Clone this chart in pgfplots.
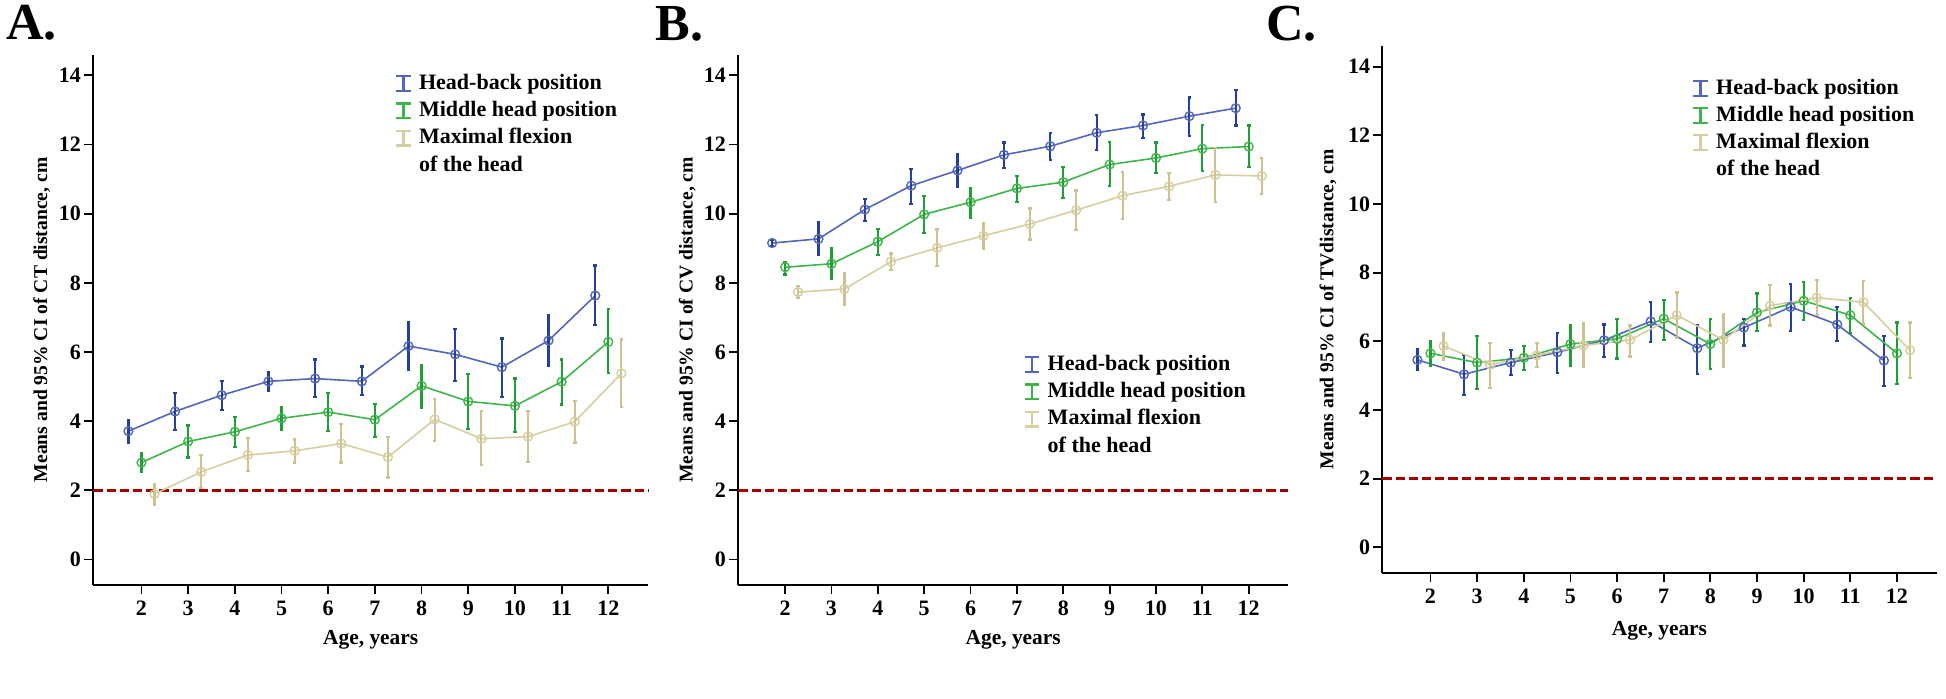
\documentclass[border=0pt]{standalone}
\usepackage{fontspec}
\setmainfont{Liberation Serif}
\usepackage{pgfplots}
\usepackage{pgfplotstable}
\pgfplotsset{compat=1.18}

\definecolor{bl}{HTML}{5266BA}
\definecolor{blE}{HTML}{23409C}
\definecolor{gr}{HTML}{3DB54A}
\definecolor{grE}{HTML}{1E9E35}
\definecolor{tn}{HTML}{D6CE9E}
\definecolor{tnE}{HTML}{CDC190}
\definecolor{dred}{HTML}{A50000}

% Panel A (CT)
\pgfplotstableread{
age m lo hi
2 3.71 3.38 4.02
3 4.28 3.75 4.81
4 4.75 4.32 5.17
5 5.15 4.87 5.42
6 5.23 4.69 5.78
7 5.15 4.75 5.58
8 6.17 5.48 6.85
9 5.93 5.17 6.67
10 5.56 4.69 6.39
11 6.33 5.60 7.06
12 7.63 6.78 8.50
}\Ab
\pgfplotstableread{
age m lo hi
2 2.80 2.52 3.07
3 3.41 2.95 3.87
4 3.69 3.26 4.11
5 4.08 3.75 4.41
6 4.26 3.71 4.81
7 4.04 3.55 4.50
8 5.02 4.38 5.62
9 4.57 3.77 5.36
10 4.44 3.68 5.23
11 5.14 4.48 5.78
12 6.29 5.38 7.24
}\Ag
\pgfplotstableread{
age m lo hi
2 1.89 1.58 2.19
3 2.53 2.07 3.02
4 3.02 2.56 3.51
5 3.14 2.80 3.47
6 3.35 2.80 3.92
7 2.96 2.37 3.53
8 4.05 3.43 4.65
9 3.49 2.74 4.29
10 3.55 2.82 4.29
11 3.98 3.38 4.57
12 5.38 4.41 6.36
}\At
% Panel B (CV)
\pgfplotstableread{
age m lo hi
2 9.15 9.07 9.24
3 9.27 8.81 9.76
4 10.12 9.79 10.42
5 10.81 10.27 11.30
6 11.25 10.76 11.72
7 11.70 11.33 12.06
8 11.95 11.55 12.33
9 12.34 11.84 12.85
10 12.55 12.18 12.87
11 12.82 12.24 13.36
12 13.05 12.55 13.58
}\Bb
\pgfplotstableread{
age m lo hi
2 8.45 8.24 8.61
3 8.55 8.10 8.99
4 9.19 8.81 9.55
5 9.98 9.45 10.52
6 10.33 9.88 10.75
7 10.73 10.34 11.09
8 10.91 10.46 11.36
9 11.42 10.79 12.08
10 11.61 11.18 12.06
11 11.88 11.24 12.57
12 11.94 11.36 12.55
}\Bg
\pgfplotstableread{
age m lo hi
2 7.73 7.55 7.90
3 7.82 7.37 8.27
4 8.61 8.36 8.85
5 9.01 8.48 9.54
6 9.36 8.99 9.73
7 9.70 9.25 10.15
8 10.10 9.52 10.67
9 10.52 9.84 11.21
10 10.79 10.39 11.18
11 11.12 10.33 11.90
12 11.09 10.57 11.60
}\Bt
% Panel C (TV)
\pgfplotstableread{
age m lo hi
2 5.46 5.16 5.76
3 5.04 4.44 5.59
4 5.38 5.02 5.74
5 5.68 5.08 6.24
6 6.03 5.55 6.49
7 6.58 5.98 7.14
8 5.80 5.05 6.48
9 6.40 5.88 6.64
10 7.00 6.31 7.68
11 6.49 6.00 7.00
12 5.44 4.69 6.16
}\Cb
\pgfplotstableread{
age m lo hi
2 5.65 5.29 6.00
3 5.38 4.60 6.16
4 5.52 5.16 5.86
5 5.92 5.28 6.48
6 6.07 5.50 6.64
7 6.66 6.04 7.20
8 5.92 5.20 6.64
9 6.84 6.30 7.39
10 7.18 6.61 7.72
11 6.76 6.24 7.27
12 5.65 4.75 6.55
}\Cg
\pgfplotstableread{
age m lo hi
2 5.86 5.47 6.24
3 5.32 4.63 5.95
4 5.59 5.26 5.95
5 5.88 5.26 6.52
6 6.04 5.56 6.46
7 6.76 6.10 7.42
8 6.04 5.26 6.79
9 7.04 6.46 7.63
10 7.27 6.76 7.78
11 7.14 6.52 7.76
12 5.74 4.92 6.55
}\Ct

\pgfplotsset{
  panel/.style={
    scale only axis,
    axis lines=left,
    axis line style={-, line width=1pt, black},
    xmin=0.97, xmax=12.85, ymin=-0.74, ymax=14.6,
    xtick={2,...,12}, ytick={0,2,...,14},
    tick align=outside, major tick length=4.5pt,
    tick style={black, line width=0.9pt},
    /pgf/number format/assume math mode=true,
    ticklabel style={font=\bfseries\fontsize{11}{12}\selectfont},
    yticklabel style={inner sep=1.5pt},
    xlabel={Age, years},
    xlabel style={font=\bfseries\fontsize{10.7}{12}\selectfont, anchor=center},
    ylabel style={font=\bfseries\fontsize{9.8}{11}\selectfont, anchor=center},
    clip=false,
    legend cell align=left,
    legend style={draw=none, fill=none, anchor=north west,
      font=\bfseries\fontsize{11}{12}\selectfont,
      nodes={inner sep=0.6pt, text height=8pt, text depth=2.2pt},
      row sep=2.2pt, column sep=3pt},
  },
  ser/.style 2 args={color=#1, line width=0.8pt, mark=o, mark size=2.2pt,
    mark options={line width=0.7pt, solid}, forget plot,
    error bars/.cd, y dir=both, y explicit,
    error bar style={line width=1.1pt, color=#2},
    error mark options={rotate=90, mark size=0.9pt, line width=1.1pt, color=#2}},
  ibar/.style={legend image code/.code={
    \draw[line width=1.1pt,#1] (0.17cm,-0.13cm) -- (0.17cm,0.13cm);
    \draw[line width=1.1pt,#1] (0.04cm,-0.13cm) -- (0.30cm,-0.13cm);
    \draw[line width=1.1pt,#1] (0.04cm,0.13cm) -- (0.30cm,0.13cm);
  }},
}

\newcommand{\series}[3]{%
  \addplot[ser={#2}{#3}] table[x expr=\thisrow{age}+#1, y=m,
     y error plus expr=\thisrow{hi}-\thisrow{m},
     y error minus expr=\thisrow{m}-\thisrow{lo}]}

\begin{document}
\begin{tikzpicture}
\useasboundingbox (0,0) rectangle (973pt,349.5pt);

\node[anchor=base west, inner sep=0] at (3pt,329.5pt) {\fontsize{26}{26}\selectfont\bfseries A.};
\node[anchor=base west, inner sep=0] at (327.5pt,329pt) {\fontsize{26}{26}\selectfont\bfseries B.};
\node[anchor=base west, inner sep=0] at (633pt,329pt) {\fontsize{26}{26}\selectfont\bfseries C.};

% ---------------- A
\begin{axis}[panel, at={(46.7pt,57pt)}, anchor=south west,
  width=277.3pt, height=265.2pt,
  ylabel={Means and 95\% CI of CT distance, cm},
  xlabel style={at={(axis description cs:0.5,-0.104)}},
  ylabel style={at={(axis description cs:-0.093,0.5)}},
  legend style={at={(0.53,0.975)}}]
\addplot[dred, line width=1.3pt, dash pattern=on 4.6pt off 2pt, forget plot] coordinates {(0.97,2) (12.85,2)};
\series{-0.28}{bl}{blE} {\Ab};
\series{0}{gr}{grE} {\Ag};
\series{0.28}{tn}{tnE} {\At};
\addlegendimage{ibar=bl}\addlegendentry{Head-back position}
\addlegendimage{ibar=gr}\addlegendentry{Middle head position}
\addlegendimage{ibar=tn}\addlegendentry{Maximal flexion}
\addlegendimage{empty legend}\addlegendentry{of the head}
\end{axis}

% ---------------- B
\begin{axis}[panel, at={(369.15pt,57pt)}, anchor=south west,
  width=274.9pt, height=265.2pt, xmin=0.99,
  ylabel={Means and 95\% CI of CV distance, cm},
  xlabel style={at={(axis description cs:0.5,-0.104)}},
  ylabel style={at={(axis description cs:-0.093,0.5)}},
  legend style={at={(0.505,0.445)}}]
\addplot[dred, line width=1.3pt, dash pattern=on 4.6pt off 2pt, forget plot] coordinates {(0.99,2) (12.85,2)};
\series{-0.28}{bl}{blE} {\Bb};
\series{0}{gr}{grE} {\Bg};
\series{0.28}{tn}{tnE} {\Bt};
\addlegendimage{ibar=bl}\addlegendentry{Head-back position}
\addlegendimage{ibar=gr}\addlegendentry{Middle head position}
\addlegendimage{ibar=tn}\addlegendentry{Maximal flexion}
\addlegendimage{empty legend}\addlegendentry{of the head}
\end{axis}

% ---------------- C
\begin{axis}[panel, at={(691.2pt,63.15pt)}, anchor=south west,
  width=277.1pt, height=263.3pt,
  ylabel={Means and 95\% CI of TVdistance, cm},
  xlabel style={at={(axis description cs:0.5,-0.11)}},
  ylabel style={at={(axis description cs:-0.098,0.5)}},
  legend style={at={(0.545,0.95)}}]
\addplot[dred, line width=1.3pt, dash pattern=on 4.6pt off 2pt, forget plot] coordinates {(0.97,2) (12.85,2)};
\series{-0.28}{bl}{blE} {\Cb};
\series{0}{gr}{grE} {\Cg};
\series{0.28}{tn}{tnE} {\Ct};
\addlegendimage{ibar=bl}\addlegendentry{Head-back position}
\addlegendimage{ibar=gr}\addlegendentry{Middle head position}
\addlegendimage{ibar=tn}\addlegendentry{Maximal flexion}
\addlegendimage{empty legend}\addlegendentry{of the head}
\end{axis}
\end{tikzpicture}
\end{document}
